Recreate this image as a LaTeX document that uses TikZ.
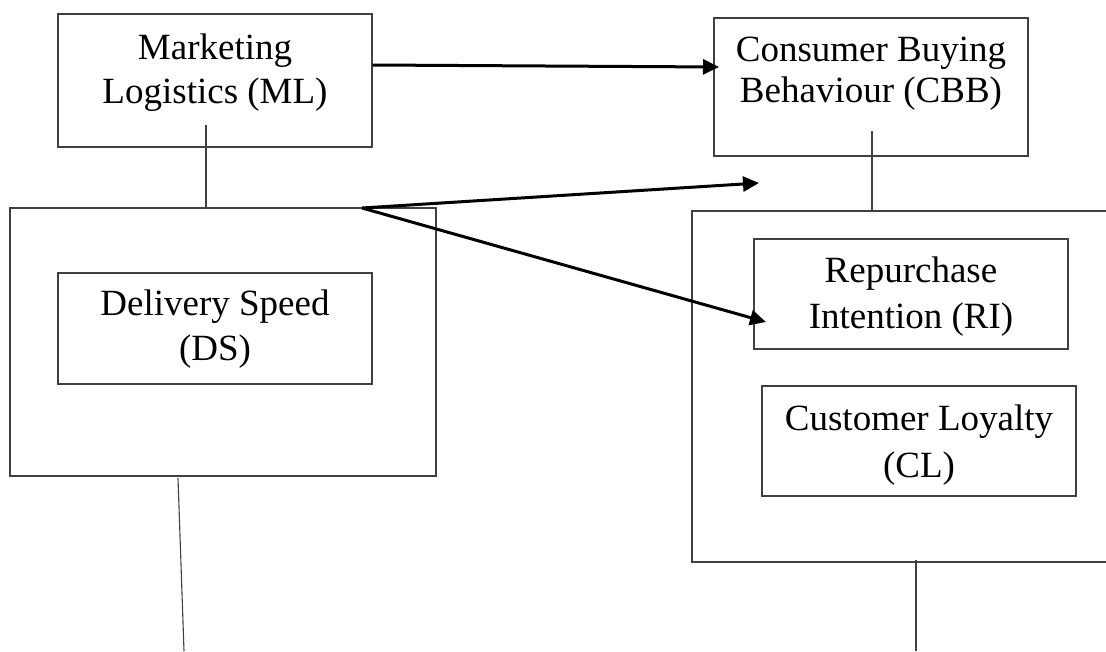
\documentclass[tikz,border=0pt]{standalone}
\usepackage{fontspec}
\setmainfont{Liberation Serif}
\usetikzlibrary{arrows.meta}
\definecolor{edgegray}{HTML}{404040}
\tikzset{
  box/.style={draw=edgegray, line width=1.3pt, rectangle, inner sep=0pt},
  txt/.style={anchor=base, inner sep=0pt, font=\fontsize{37}{45}\selectfont},
  link/.style={draw=edgegray, line width=1.1pt},
  arr/.style={draw=black, line width=3pt, -{Triangle[length=16pt,width=15pt]}}
}
\begin{document}
\begin{tikzpicture}[x=1pt,y=-1pt]
\useasboundingbox (0,0) rectangle (1106,651);
\clip (0,0) rectangle (1106,651);
% boxes
\node[box, minimum width=314pt, minimum height=133pt] (ml) at (215,80.5) {};
\node[box, minimum width=314pt, minimum height=138pt] (cbb) at (871,87) {};
\node[box, minimum width=426pt, minimum height=268pt] (dso) at (223,342) {};
\node[box, minimum width=314pt, minimum height=111pt] (ds) at (215,328.5) {};
\node[box, minimum width=430pt, minimum height=351pt] (rio) at (907,386.5) {};
\node[box, minimum width=314pt, minimum height=110pt] (ri) at (911,294) {};
\node[box, minimum width=314pt, minimum height=110pt] (cl) at (919,441) {};
% texts
\node[txt] (mlt1) at (215,59) {Marketing};
\node[txt] (mlt2) at (215,103.5) {Logistics (ML)};
\node[txt] (cbbt1) at (871,61) {Consumer Buying};
\node[txt] (cbbt2) at (871,102) {Behaviour (CBB)};
\node[txt] (dst1) at (215,315) {Delivery Speed};
\node[txt] (dst2) at (215,360) {(DS)};
\node[txt] (rit1) at (911,282) {Repurchase};
\node[txt] (rit2) at (911,328) {Intention (RI)};
\node[txt] (clt1) at (919,430) {Customer Loyalty};
\node[txt] (clt2) at (919,477) {(CL)};
% coordinates
\coordinate (mlin) at (206,125);
\coordinate (dstop) at (206,208);
\coordinate (cbbin) at (872,131);
\coordinate (riotop) at (872,211);
\coordinate (src) at (362,208);
\coordinate (tipA) at (719,67);
\coordinate (tipB) at (759,183);
\coordinate (tipC) at (766,322);
\coordinate (dsbot) at (178,478);
\coordinate (endL) at (184,651);
\coordinate (riobot) at (916,560);
\coordinate (endR) at (916,651);
% connectors
\draw[link] (mlin) -- (dstop);
\draw[link] (cbbin) -- (riotop);
\draw[link] (dsbot) -- (endL);
\draw[link] (riobot) -- (endR);
\draw[arr] (ml.east |- 0,65) -- (tipA);
\draw[arr] (src) -- (tipB);
\draw[arr] (src) -- (tipC);
\end{tikzpicture}
\end{document}
